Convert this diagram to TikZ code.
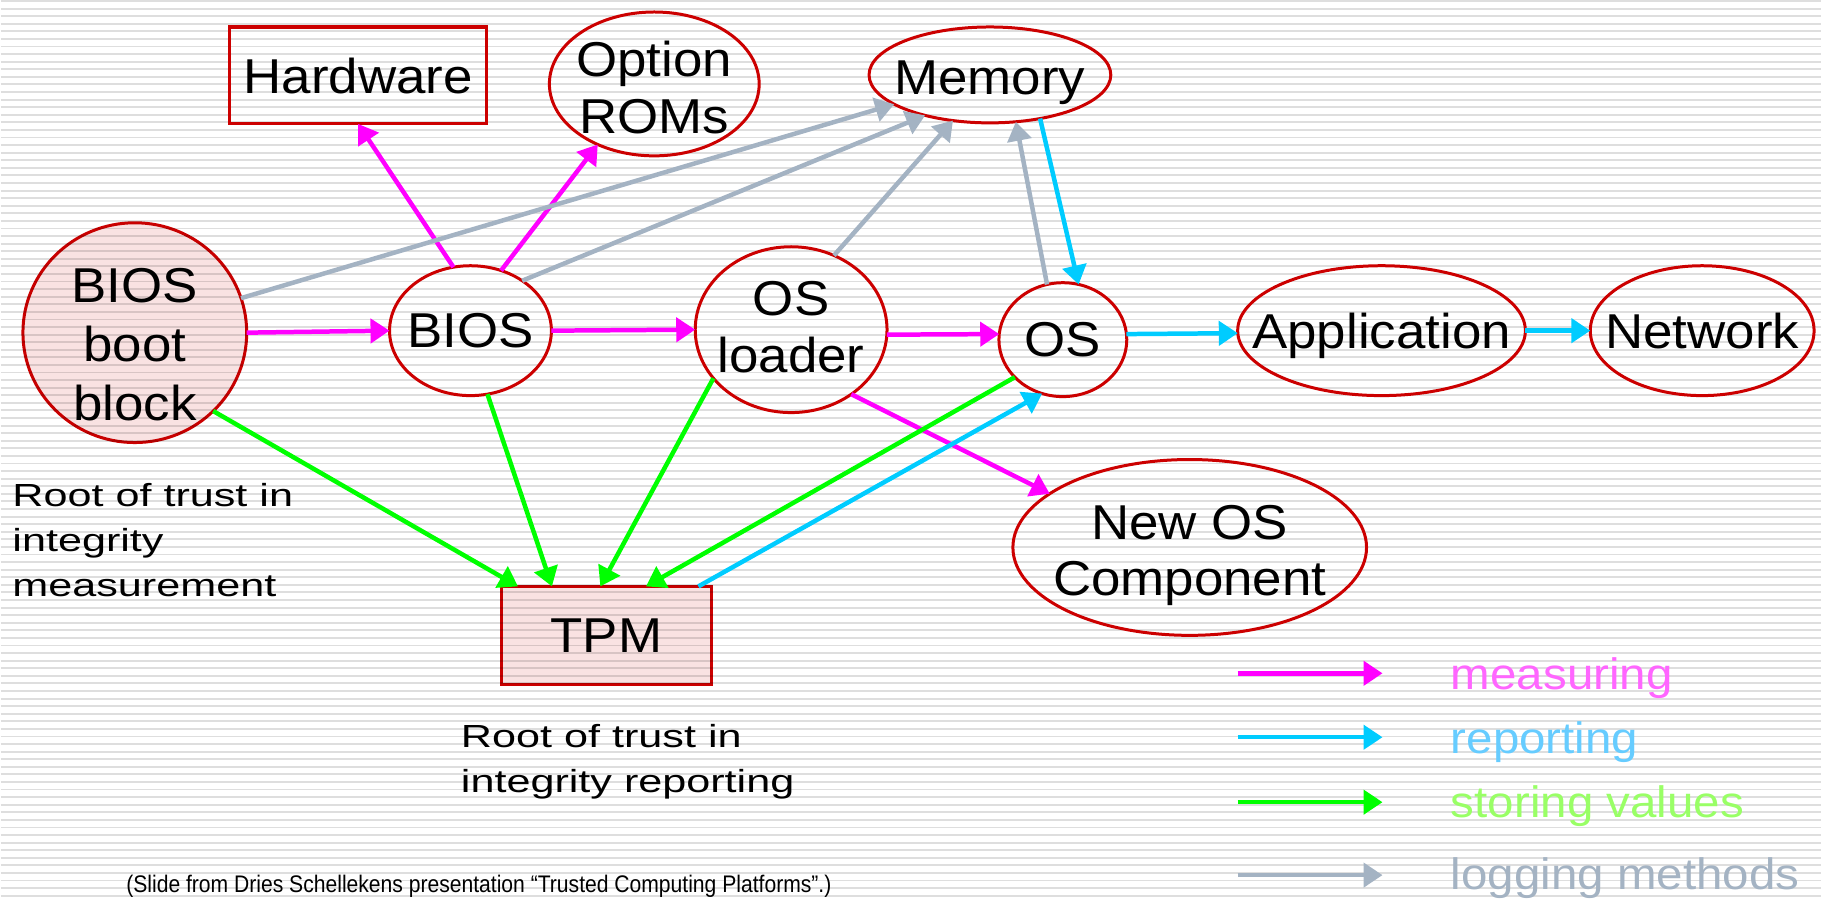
\documentclass[tikz,border=0pt]{standalone}
\usepackage{fontspec}
\setmainfont{Liberation Sans}
\newfontfamily\nodefamily[FakeStretch=1.08]{Liberation Sans}
\newfontfamily\notefamily[FakeStretch=1.35]{Liberation Sans}
\newfontfamily\creditfamily[FakeStretch=0.88]{Liberation Sans}
\usetikzlibrary{shapes.geometric,arrows.meta}

\definecolor{nodered}{HTML}{CC0000}
\definecolor{rootfill}{HTML}{F9E2E2}
\definecolor{stripe}{HTML}{DEDEDE}
\definecolor{cmeasure}{HTML}{FF00FF}
\definecolor{creport}{HTML}{00CCFF}
\definecolor{cstore}{HTML}{00FF00}
\definecolor{clog}{HTML}{A4B3C3}
\definecolor{tmeasure}{HTML}{FF66FF}
\definecolor{treport}{HTML}{66CCFF}
\definecolor{tstore}{HTML}{99FF66}
\definecolor{tlog}{HTML}{A4B3C3}

\newcommand\nodetext{\nodefamily\fontsize{19.6}{22.8}\selectfont}
\newcommand\notetext{\notefamily\fontsize{12.8}{18}\selectfont}
\newcommand\keytext{\nodefamily\fontsize{17.6}{20}\selectfont}
\newcommand\credittext{\creditfamily\fontsize{9.6}{11}\selectfont}

\begin{document}
\begin{tikzpicture}[x=0.4pt,y=-0.4pt,
  state/.style={ellipse,draw=nodered,line width=1.2pt,inner sep=0pt,outer sep=0pt},
  block/.style={rectangle,draw=nodered,line width=1.3pt,inner sep=0pt,outer sep=0pt,
                font=\nodetext,text depth=0pt},
  rooted/.style={fill=rootfill,blend mode=multiply},
  inside/.style={font=\nodetext,align=center,inner sep=0pt,text depth=0pt},
  conn/.style={line width=1.8pt,-{Triangle[length=7.6pt,width=9.6pt]}},
  measure/.style={conn,draw=cmeasure},
  report/.style={conn,draw=creport},
  store/.style={conn,draw=cstore},
  logline/.style={conn,draw=clog},
  note/.style={font=\notetext,align=left,inner sep=0pt,anchor=base west},
  key/.style={font=\keytext,inner sep=0pt,anchor=base west}]

% striped slide background
\fill[white] (0,0) rectangle (1822,900);
\foreach \k in {0,...,118}
  \draw[stripe,line width=0.76pt] (0,{1+7.59*\k}) -- (1822,{1+7.59*\k});
\useasboundingbox (0,0) rectangle (1822,900);

% components
\node[state,rooted,minimum width=89.6pt,minimum height=88pt,
      label={[inside,yshift=-4.6pt,font=\nodefamily\fontsize{19.6}{23.6}\selectfont]center:{BIOS\\boot\\block}}] (bbb) at (134,333) {};
\node[block,minimum width=102.8pt,minimum height=38.8pt] (hw) at (357.5,75.5) {Hardware};
\node[state,minimum width=84pt,minimum height=57.6pt,
      label={[inside,yshift=-1.2pt]center:{Option\\ROMs}}] (rom) at (654,84) {};
\node[state,minimum width=96.8pt,minimum height=38.4pt,
      label={[inside,yshift=-1.2pt]center:Memory}] (mem) at (990,75) {};
\node[state,minimum width=64.8pt,minimum height=52pt,
      label={[inside]center:BIOS}] (bios) at (470,331) {};
\node[state,minimum width=76.8pt,minimum height=66.4pt,
      label={[inside,yshift=1.2pt]center:{OS\\loader}}] (osl) at (791,330) {};
\node[state,minimum width=51.2pt,minimum height=45.6pt,
      label={[inside]center:OS}] (os) at (1063,340) {};
\node[state,minimum width=115.2pt,minimum height=52pt,
      label={[inside]center:Application}] (app) at (1382,331) {};
\node[state,minimum width=89.6pt,minimum height=52pt,
      label={[inside]center:Network}] (net) at (1703,331) {};
\node[state,minimum width=141.6pt,minimum height=70.4pt,
      label={[inside,yshift=-1.2pt]center:{New OS\\Component}}] (newos) at (1190,548) {};
\node[block,rooted,minimum width=84pt,minimum height=39.2pt] (tpm) at (606,636) {TPM};

% measuring
\draw[measure] (bbb.east) -- (bios.west);
\draw[measure] (bios.105) -- (hw.south);
\draw[measure] (bios.63) -- (rom.227);
\draw[measure] (bios.east) -- (osl.west);
\draw[measure] (osl.-3) -- (os.175);
\draw[measure] (osl.-47) -- (newos.159);

% reporting
\draw[report] (mem.-41) -- (os.74);
\draw[report] (os.5) -- (app.181);
\draw[report] (app.east) -- (net.west);
\draw[report] (tpm.28) -- (os.249);

% storing values
\draw[store] (bbb.-45) -- (tpm.151);
\draw[store] (bios.-75) -- (tpm.138);
\draw[store] (osl.212) -- (tpm.97);
\draw[store] (os.218) -- (tpm.51);

% logging methods
\draw[logline] (bbb.18) -- (mem.197);
\draw[logline] (bios.44) -- (mem.212);
\draw[logline] (osl.60) -- (mem.231);
\draw[logline] (os.106) -- (mem.299);

% roots of trust (anchored at the baseline of the last line)
\node[note] (rtm) at (11,597) {Root of trust in\\integrity\\measurement};
\node[note] (rtr) at (460,793) {Root of trust in\\integrity reporting};

% key
\coordinate (km1) at (1238,674); \coordinate (km2) at (1383,674);
\coordinate (kr1) at (1238,738); \coordinate (kr2) at (1383,738);
\coordinate (ks1) at (1238,803); \coordinate (ks2) at (1383,803);
\coordinate (kl1) at (1238,876); \coordinate (kl2) at (1383,876);
\draw[measure] (km1) -- (km2);
\draw[report] (kr1) -- (kr2);
\draw[store] (ks1) -- (ks2);
\draw[logline] (kl1) -- (kl2);
\node[key,text=tmeasure] (kmt) at (1451,690) {measuring};
\node[key,text=treport] (krt) at (1451,754) {reporting};
\node[key,text=tstore] (kst) at (1451,818) {storing values};
\node[key,text=tlog] (klt) at (1451,890) {logging methods};

% credit line
\node[font=\credittext,inner sep=0pt,anchor=base west] (credit) at (125,893)
  {(Slide from Dries Schellekens presentation “Trusted Computing Platforms”.)};
\end{tikzpicture}
\end{document}
